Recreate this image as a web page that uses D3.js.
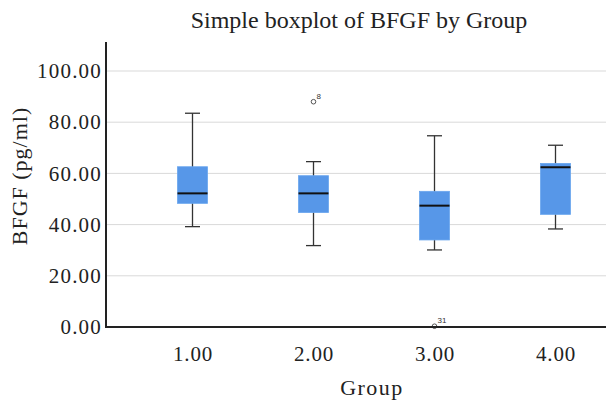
<!DOCTYPE html>
<html><head><meta charset="utf-8">
<script src="https://cdn.jsdelivr.net/npm/d3@7"></script>
<style>body{margin:0;background:#fff}svg{display:block}</style>
</head><body>
<svg id="c" width="606" height="403"></svg>
<script>
const groups = [1, 2, 3, 4];
const groupLabels = ["1.00", "2.00", "3.00", "4.00"];
const whiskerLow = [39.2, 31.8, 30.1, 38.3];
const q1 = [48.3, 44.7, 34.0, 44.0];
const median = [52.2, 52.2, 47.4, 62.4];
const q3 = [62.6, 59.1, 53.0, 63.9];
const whiskerHigh = [83.5, 64.6, 74.7, 71.0];
const outlierGroup = [2, 3];
const outlierValue = [88.0, 0.3];
const outlierCase = ["8", "31"];
const yTicks = [0, 20, 40, 60, 80, 100];

const svg = d3.select("#c");
const serif = "'Liberation Serif', 'DejaVu Serif', serif";
const plotLeft = 106, plotRight = 606, plotTop = 42, plotBottom = 327;
const y = d3.scaleLinear().domain([0, 100]).range([plotBottom, 71]);
const x = d3.scaleLinear().domain([1, 4]).range([192.5, 555.5]);

// gridlines
svg.append("g").selectAll("line").data(yTicks.filter(d => d > 0)).join("line")
  .attr("x1", plotLeft).attr("x2", plotRight).attr("y1", d => y(d)).attr("y2", d => y(d))
  .attr("stroke", "#d9d9d9").attr("stroke-width", 1);

// y axis
const yAxis = d3.axisLeft(y).tickValues(yTicks).tickFormat(d3.format(".2f")).tickSize(0).tickPadding(4);
const gy = svg.append("g").attr("transform", `translate(${plotLeft},0)`).call(yAxis);
gy.select(".domain").remove();
gy.selectAll("text").attr("font-family", serif).attr("font-size", 21).attr("letter-spacing", 1.2).attr("fill", "#222");

// x axis
const xAxis = d3.axisBottom(x).tickValues(groups).tickFormat((d, i) => groupLabels[i]).tickSize(0).tickPadding(19);
const gx = svg.append("g").attr("transform", `translate(0,${plotBottom})`).call(xAxis);
gx.select(".domain").remove();
gx.selectAll("text").attr("font-family", serif).attr("font-size", 21).attr("letter-spacing", 0.8).attr("fill", "#222");

const boxW = 30, capW = 15;
const data = groups.map((g, i) => ({g, lo: whiskerLow[i], q1: q1[i], med: median[i], q3: q3[i], hi: whiskerHigh[i]}));
const bx = svg.append("g").selectAll("g").data(data).join("g");
bx.append("line").attr("x1", d => x(d.g)).attr("x2", d => x(d.g))
  .attr("y1", d => y(d.hi)).attr("y2", d => y(d.lo)).attr("stroke", "#333").attr("stroke-width", 1.3);
bx.append("line").attr("x1", d => x(d.g) - capW/2).attr("x2", d => x(d.g) + capW/2)
  .attr("y1", d => y(d.hi)).attr("y2", d => y(d.hi)).attr("stroke", "#333").attr("stroke-width", 1.3);
bx.append("line").attr("x1", d => x(d.g) - capW/2).attr("x2", d => x(d.g) + capW/2)
  .attr("y1", d => y(d.lo)).attr("y2", d => y(d.lo)).attr("stroke", "#333").attr("stroke-width", 1.3);
bx.append("rect").attr("x", d => x(d.g) - boxW/2).attr("width", boxW)
  .attr("y", d => y(d.q3)).attr("height", d => y(d.q1) - y(d.q3))
  .attr("fill", "#5797e8").attr("stroke", "#6aa6ee").attr("stroke-width", 0.8);
bx.append("line").attr("x1", d => x(d.g) - boxW/2).attr("x2", d => x(d.g) + boxW/2)
  .attr("y1", d => y(d.med)).attr("y2", d => y(d.med)).attr("stroke", "#111").attr("stroke-width", 2);

// outliers
const od = outlierGroup.map((g, i) => ({g, v: outlierValue[i], c: outlierCase[i]}));
const og = svg.append("g").selectAll("g").data(od).join("g");
og.append("circle").attr("cx", d => x(d.g)).attr("cy", d => y(d.v)).attr("r", 2.3)
  .attr("fill", "none").attr("stroke", "#444").attr("stroke-width", 0.9);
og.append("text").attr("x", d => x(d.g) + 3).attr("y", d => y(d.v) - 3)
  .attr("font-family", "'Liberation Sans', Arial, sans-serif").attr("font-size", 8).attr("fill", "#333").text(d => d.c);

// axis lines
svg.append("line").attr("x1", plotLeft).attr("x2", plotLeft).attr("y1", plotTop).attr("y2", plotBottom + 1)
  .attr("stroke", "#222").attr("stroke-width", 2);
svg.append("line").attr("x1", plotLeft - 1).attr("x2", plotRight).attr("y1", plotBottom).attr("y2", plotBottom)
  .attr("stroke", "#222").attr("stroke-width", 2);

// title and labels
svg.append("text").attr("x", 359).attr("y", 28).attr("text-anchor", "middle")
  .attr("font-family", serif).attr("font-size", 24).attr("fill", "#222").text("Simple boxplot of BFGF by Group");
svg.append("text").attr("transform", "translate(27,176) rotate(-90)").attr("text-anchor", "middle")
  .attr("font-family", serif).attr("font-size", 22).attr("letter-spacing", 1).attr("fill", "#222").text("BFGF (pg/ml)");
svg.append("text").attr("x", 372).attr("y", 395).attr("text-anchor", "middle")
  .attr("font-family", serif).attr("font-size", 22).attr("letter-spacing", 1.5).attr("fill", "#222").text("Group");
</script>
</body></html>
